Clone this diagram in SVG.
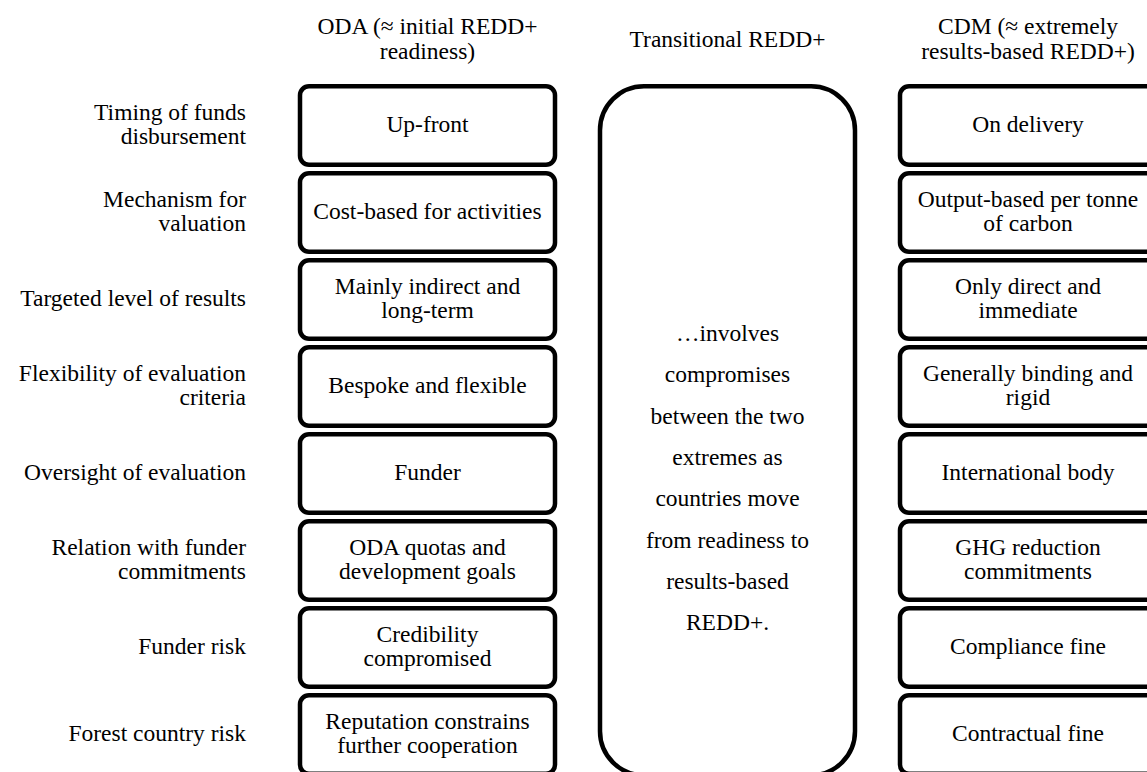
<svg xmlns="http://www.w3.org/2000/svg" width="1147" height="772" viewBox="0 0 1147 772">
<style>
text{font-family:"Liberation Serif","Times New Roman",serif;font-size:23.5px;fill:#000}
.c{text-anchor:middle}
.r{text-anchor:end}
.box{fill:#fff;stroke:#000;stroke-width:4.5}
</style>
<rect width="1147" height="772" fill="#fff"/>
<g id="headers">
<text class="c" x="427.5" y="34">ODA (≈ initial REDD+</text>
<text class="c" x="427.5" y="59">readiness)</text>
<text class="c" x="727.5" y="47">Transitional REDD+</text>
<text class="c" x="1028" y="34">CDM (≈ extremely</text>
<text class="c" x="1028" y="59">results-based REDD+)</text>
</g>
<g id="row-labels">
<text class="r" x="246" y="120">Timing of funds</text>
<text class="r" x="246" y="144">disbursement</text>
<text class="r" x="246" y="207">Mechanism for</text>
<text class="r" x="246" y="231">valuation</text>
<text class="r" x="246" y="306">Targeted level of results</text>
<text class="r" x="246" y="381">Flexibility of evaluation</text>
<text class="r" x="246" y="405">criteria</text>
<text class="r" x="246" y="480">Oversight of evaluation</text>
<text class="r" x="246" y="555">Relation with funder</text>
<text class="r" x="246" y="579">commitments</text>
<text class="r" x="246" y="654">Funder risk</text>
<text class="r" x="246" y="741">Forest country risk</text>
</g>
<g id="oda-1"><rect class="box" x="300" y="86.25" width="255" height="78.5" rx="9"/><text class="c" x="427.5" y="132">Up-front</text></g>
<g id="oda-2"><rect class="box" x="300" y="173.25" width="255" height="78.5" rx="9"/><text class="c" x="427.5" y="219">Cost-based for activities</text></g>
<g id="oda-3"><rect class="box" x="300" y="260.25" width="255" height="78.5" rx="9"/><text class="c" x="427.5" y="294">Mainly indirect and</text><text class="c" x="427.5" y="318">long-term</text></g>
<g id="oda-4"><rect class="box" x="300" y="347.25" width="255" height="78.5" rx="9"/><text class="c" x="427.5" y="393">Bespoke and flexible</text></g>
<g id="oda-5"><rect class="box" x="300" y="434.25" width="255" height="78.5" rx="9"/><text class="c" x="427.5" y="480">Funder</text></g>
<g id="oda-6"><rect class="box" x="300" y="521.25" width="255" height="78.5" rx="9"/><text class="c" x="427.5" y="555">ODA quotas and</text><text class="c" x="427.5" y="579">development goals</text></g>
<g id="oda-7"><rect class="box" x="300" y="608.25" width="255" height="78.5" rx="9"/><text class="c" x="427.5" y="642">Credibility</text><text class="c" x="427.5" y="666">compromised</text></g>
<g id="oda-8"><rect class="box" x="300" y="695.25" width="255" height="78.5" rx="9"/><text class="c" x="427.5" y="729">Reputation constrains</text><text class="c" x="427.5" y="753">further cooperation</text></g>
<g id="transitional"><rect class="box" x="600" y="86.25" width="255" height="689" rx="44"/>
<text class="c" x="727.5" y="341">…involves</text>
<text class="c" x="727.5" y="382.3">compromises</text>
<text class="c" x="727.5" y="423.6">between the two</text>
<text class="c" x="727.5" y="464.9">extremes as</text>
<text class="c" x="727.5" y="506.2">countries move</text>
<text class="c" x="727.5" y="547.5">from readiness to</text>
<text class="c" x="727.5" y="588.8">results-based</text>
<text class="c" x="727.5" y="630.1">REDD+.</text>
</g>
<g id="cdm-1"><rect class="box" x="900" y="86.25" width="255" height="78.5" rx="9"/><text class="c" x="1028" y="132">On delivery</text></g>
<g id="cdm-2"><rect class="box" x="900" y="173.25" width="255" height="78.5" rx="9"/><text class="c" x="1028" y="207">Output-based per tonne</text><text class="c" x="1028" y="231">of carbon</text></g>
<g id="cdm-3"><rect class="box" x="900" y="260.25" width="255" height="78.5" rx="9"/><text class="c" x="1028" y="294">Only direct and</text><text class="c" x="1028" y="318">immediate</text></g>
<g id="cdm-4"><rect class="box" x="900" y="347.25" width="255" height="78.5" rx="9"/><text class="c" x="1028" y="381">Generally binding and</text><text class="c" x="1028" y="405">rigid</text></g>
<g id="cdm-5"><rect class="box" x="900" y="434.25" width="255" height="78.5" rx="9"/><text class="c" x="1028" y="480">International body</text></g>
<g id="cdm-6"><rect class="box" x="900" y="521.25" width="255" height="78.5" rx="9"/><text class="c" x="1028" y="555">GHG reduction</text><text class="c" x="1028" y="579">commitments</text></g>
<g id="cdm-7"><rect class="box" x="900" y="608.25" width="255" height="78.5" rx="9"/><text class="c" x="1028" y="654">Compliance fine</text></g>
<g id="cdm-8"><rect class="box" x="900" y="695.25" width="255" height="78.5" rx="9"/><text class="c" x="1028" y="741">Contractual fine</text></g>
<g id="connectors"></g>
</svg>
